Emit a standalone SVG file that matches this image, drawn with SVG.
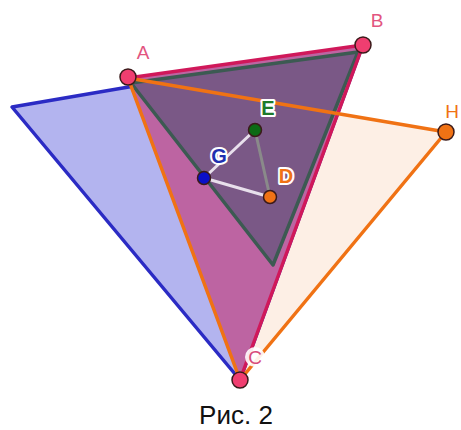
<svg xmlns="http://www.w3.org/2000/svg" width="461" height="430" viewBox="0 0 461 430">
<style>
.lbl{font-family:"Liberation Sans",Arial,sans-serif;font-size:19px;text-anchor:middle}
.halo{stroke:#fff;stroke-width:4;paint-order:stroke;stroke-linejoin:round;font-size:20px;font-weight:bold}
.pt{stroke:#3a1a1a;stroke-width:1.5}
</style>
<rect width="461" height="430" fill="#fff"/>
<g id="shapes">
<polygon id="orangeTri" points="128,78 446,132 240,380" fill="#fdefe5"/>
<polygon id="blueTri" points="12,107 362,47 240,380" fill="#b3b4ef" stroke="#2b2bc4" stroke-width="3.5" stroke-linejoin="round"/>
<polygon id="pinkTri" points="128,78 363,45 240,380" fill="#bd64a2"/>
<polygon id="darkTri" points="131,83 358,52 273,265" fill="#7a5886" stroke="#3c5a52" stroke-width="3.5" stroke-linejoin="round"/>
</g>
<g id="connectors" fill="none" stroke-linecap="round">
<line x1="128" y1="78" x2="363" y2="45" stroke="#d0185a" stroke-width="3.5"/>
<line x1="363" y1="45" x2="240" y2="380" stroke="#d0185a" stroke-width="3.5"/>
<line x1="128" y1="78" x2="446" y2="132" stroke="#f07214" stroke-width="3.5"/>
<line x1="446" y1="132" x2="240" y2="380" stroke="#f07214" stroke-width="3.5"/>
<line x1="128" y1="78" x2="240" y2="380" stroke="#f07214" stroke-width="3.5"/>
<line x1="204" y1="178" x2="255" y2="130" stroke="#e8e0ec" stroke-width="3"/>
<line x1="204" y1="178" x2="270" y2="197" stroke="#e8e0ec" stroke-width="3"/>
<line x1="255" y1="130" x2="270" y2="197" stroke="#8a8a8a" stroke-width="3"/>
</g>
<g id="A"><circle class="pt" cx="128" cy="77" r="8" fill="#f03e70"/><text class="lbl" x="143" y="59" fill="#e2557f">A</text></g>
<g id="B"><circle class="pt" cx="363" cy="45" r="8" fill="#f03e70"/><text class="lbl" x="377" y="27" fill="#e2557f">B</text></g>
<g id="C"><circle class="pt" cx="240" cy="380" r="8" fill="#f03e70"/><circle cx="255" cy="357" r="10" fill="#fff" opacity="0.9"/><text class="lbl" x="255" y="364" fill="#d84a7a">C</text></g>
<g id="H"><circle class="pt" cx="446" cy="132" r="8" fill="#f07214"/><text class="lbl" x="452" y="118" fill="#f07214" text-anchor="start">H</text></g>
<g id="E"><circle class="pt" cx="255" cy="130" r="6.5" fill="#0c6a14"/><text class="lbl halo" x="268" y="115" fill="#1d7a2a">E</text></g>
<g id="G"><circle class="pt" cx="204" cy="178" r="6.5" fill="#0a10c8"/><text class="lbl halo" x="219" y="163" fill="#2030b0">G</text></g>
<g id="D"><circle class="pt" cx="270" cy="197" r="6.5" fill="#f07214"/><text class="lbl halo" x="286" y="183" fill="#f07214">D</text></g>
<text x="236" y="424" font-family="'Liberation Sans',Arial,sans-serif" font-size="26" text-anchor="middle" fill="#111">Рис. 2</text>
</svg>
